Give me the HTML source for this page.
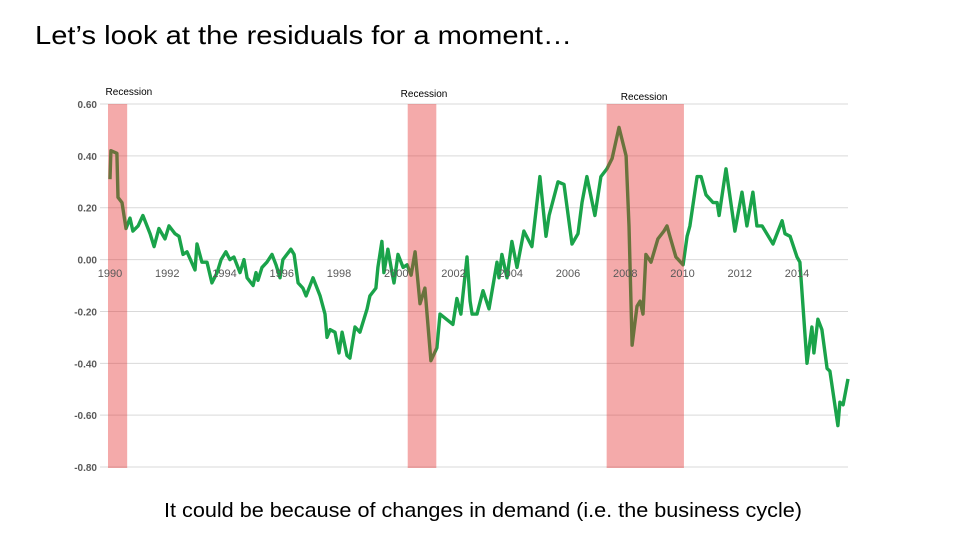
<!DOCTYPE html>
<html><head><meta charset="utf-8"><style>
body{margin:0;background:#fff;width:960px;height:540px;overflow:hidden;font-family:"Liberation Sans",sans-serif}
svg{position:absolute;left:0;top:0}
</style></head><body>
<svg id="chart" width="960" height="540">
<text x="35" y="44" font-size="26" fill="#000" textLength="537" lengthAdjust="spacingAndGlyphs">Let’s look at the residuals for a moment…</text>
<text x="164" y="517" font-size="20.5" fill="#000" textLength="638" lengthAdjust="spacingAndGlyphs">It could be because of changes in demand (i.e. the business cycle)</text>
<g id="grid"></g><g id="line"></g><g id="rec"></g><g id="labels"></g>
</svg>
<script>
const yTicks=[0.6,0.4,0.2,0,-0.2,-0.4,-0.6,-0.8];
const yTickLabels=["0.60","0.40","0.20","0.00","-0.20","-0.40","-0.60","-0.80"];
const xTicks=[1990,1992,1994,1996,1998,2000,2002,2004,2006,2008,2010,2012,2014];
const recStart=[1989.93,2000.4,2007.35];
const recEnd=[1990.6,2001.4,2010.05];
const recLabelYear=[1990.66,2000.97,2008.66];
const recLabelY=[91,93,96];
const years=[1990.0,1990.03,1990.24,1990.28,1990.42,1990.56,1990.70,1990.80,1990.98,1991.15,1991.40,1991.54,1991.71,1991.92,1992.06,1992.27,1992.41,1992.55,1992.69,1992.97,1993.04,1993.21,1993.39,1993.56,1993.74,1993.88,1994.05,1994.19,1994.33,1994.54,1994.68,1994.79,1995.00,1995.10,1995.17,1995.31,1995.48,1995.66,1995.80,1995.94,1996.04,1996.18,1996.32,1996.43,1996.57,1996.74,1996.85,1997.09,1997.34,1997.51,1997.58,1997.69,1997.86,1998.00,1998.11,1998.28,1998.38,1998.56,1998.73,1998.98,1999.08,1999.29,1999.36,1999.50,1999.57,1999.71,1999.85,1999.92,2000.06,2000.24,2000.38,2000.52,2000.66,2000.83,2001.00,2001.21,2001.42,2001.53,2001.98,2002.12,2002.26,2002.47,2002.58,2002.65,2002.82,2003.03,2003.24,2003.52,2003.59,2003.69,2003.87,2004.04,2004.22,2004.46,2004.74,2005.02,2005.23,2005.34,2005.65,2005.86,2006.14,2006.35,2006.49,2006.66,2006.94,2007.15,2007.36,2007.54,2007.78,2008.03,2008.13,2008.24,2008.41,2008.52,2008.62,2008.72,2008.90,2009.14,2009.35,2009.46,2009.56,2009.77,2010.02,2010.16,2010.26,2010.51,2010.65,2010.82,2011.07,2011.21,2011.28,2011.52,2011.83,2012.08,2012.25,2012.46,2012.60,2012.78,2013.16,2013.48,2013.58,2013.76,2014.00,2014.10,2014.35,2014.52,2014.59,2014.73,2014.87,2015.05,2015.15,2015.43,2015.50,2015.61,2015.78];
const resid=[0.31,0.42,0.41,0.24,0.22,0.12,0.16,0.11,0.13,0.17,0.10,0.05,0.12,0.08,0.13,0.10,0.09,0.02,0.03,-0.04,0.06,-0.01,-0.01,-0.09,-0.05,0.00,0.03,0.00,0.01,-0.05,0.00,-0.07,-0.10,-0.05,-0.08,-0.03,-0.01,0.02,-0.02,-0.07,0.00,0.02,0.04,0.02,-0.09,-0.11,-0.14,-0.07,-0.14,-0.21,-0.30,-0.27,-0.28,-0.36,-0.28,-0.37,-0.38,-0.26,-0.28,-0.19,-0.14,-0.11,-0.03,0.07,-0.05,0.04,-0.05,-0.09,0.02,-0.03,-0.02,-0.06,0.03,-0.17,-0.11,-0.39,-0.34,-0.21,-0.25,-0.15,-0.21,0.01,-0.16,-0.21,-0.21,-0.12,-0.19,-0.01,-0.07,0.02,-0.07,0.07,-0.03,0.11,0.05,0.32,0.09,0.17,0.30,0.29,0.06,0.10,0.22,0.32,0.17,0.32,0.35,0.39,0.51,0.40,0.13,-0.33,-0.18,-0.16,-0.21,0.02,-0.01,0.08,0.11,0.13,0.09,0.01,-0.02,0.09,0.13,0.32,0.32,0.25,0.22,0.22,0.17,0.35,0.11,0.26,0.13,0.26,0.13,0.13,0.06,0.15,0.10,0.09,0.01,-0.01,-0.40,-0.26,-0.36,-0.23,-0.27,-0.42,-0.43,-0.64,-0.55,-0.56,-0.46];
const NS="http://www.w3.org/2000/svg";
const xS=y=>110+(y-1990)*28.625;
const yS=v=>259.6-v*259.3;
function mk(t,a,p){const e=document.createElementNS(NS,t);for(const k in a)e.setAttribute(k,a[k]);p.appendChild(e);return e;}
const G=document.getElementById('grid'),L=document.getElementById('line'),R=document.getElementById('rec'),T=document.getElementById('labels');
yTicks.forEach((v,i)=>{
 const l=mk('line',{x1:100,x2:848,y1:yS(v),y2:yS(v),stroke:'#d9d9d9','stroke-width':1},G);
 
 
 const t=mk('text',{x:97,y:yS(v)+4,'font-size':10,'font-weight':'bold','text-anchor':'end',fill:'#595959'},T);
 t.textContent=yTickLabels[i];
 
 
});
xTicks.forEach(y=>{
 const t=mk('text',{x:xS(y),y:277,'font-size':11,'text-anchor':'middle',fill:'#595959'},T);
 t.textContent=String(y);
 
 
});
const p=mk('polyline',{points:years.map((y,i)=>xS(y).toFixed(1)+','+yS(resid[i]).toFixed(1)).join(' '),fill:'none',stroke:'#1aa34a','stroke-width':3.4,'stroke-linejoin':'round'},L);


recStart.forEach((s,i)=>{
 const r=mk('rect',{x:xS(s),y:104,width:xS(recEnd[i])-xS(s),height:364,fill:'rgb(227,42,42)','fill-opacity':0.4},R);
 
 
 const t=mk('text',{x:xS(recLabelYear[i]),y:recLabelY[i]+4,'font-size':10,'text-anchor':'middle',fill:'#000'},T);
 t.textContent='Recession';
 
 
});
</script>
</body></html>
